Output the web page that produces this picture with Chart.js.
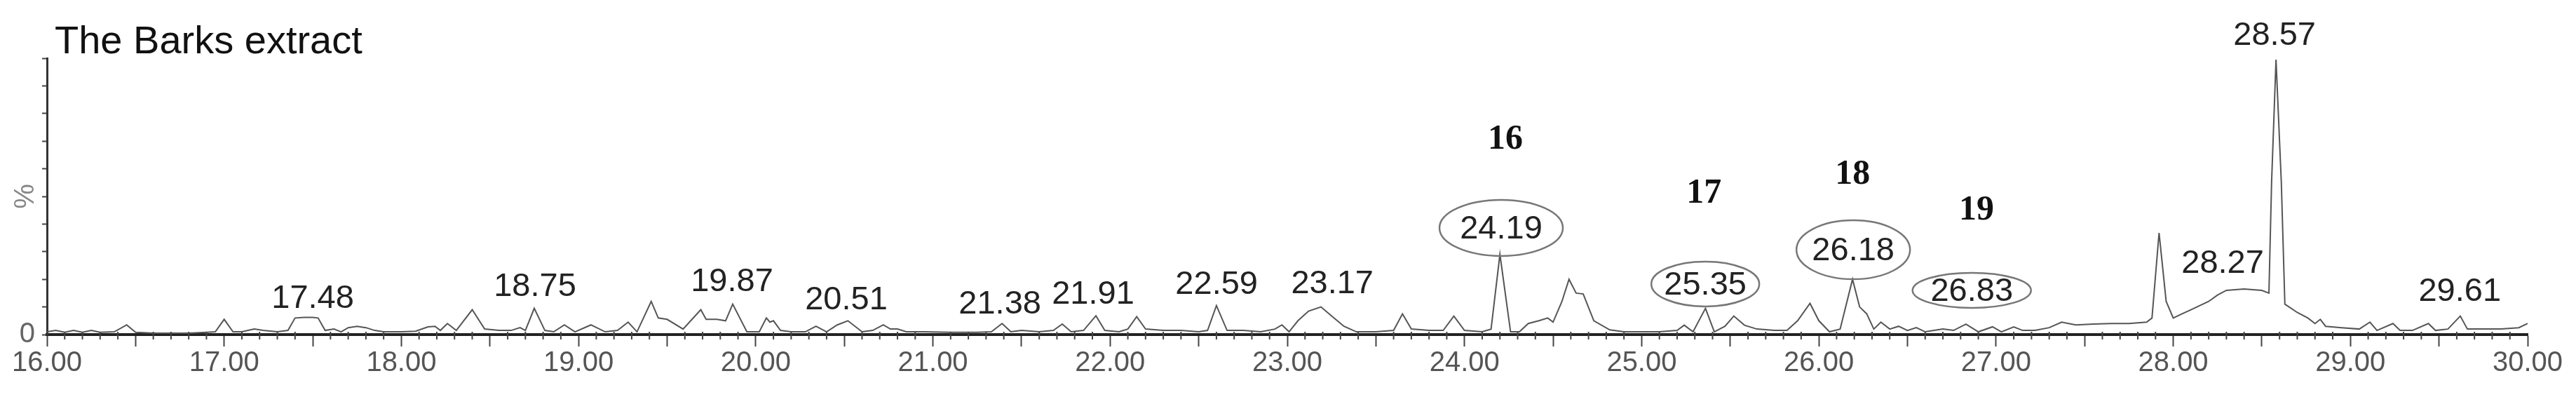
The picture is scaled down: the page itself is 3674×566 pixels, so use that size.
<!DOCTYPE html>
<html>
<head>
<meta charset="utf-8">
<script src="https://cdn.jsdelivr.net/npm/chart.js@4/dist/chart.umd.min.js"></script>
<style>html,body{margin:0;padding:0;background:#fff;overflow:hidden}</style>
</head>
<body>
<canvas id="c" width="3674" height="566" style="display:block;width:3674px;height:566px"></canvas>
<script>
// ---------- data ----------
const chartTitle = 'The Barks extract';
const yAxisTitle = '%';

const retentionTimes = [
16.00,16.05,16.10,16.15,16.20,16.25,16.30,16.38,16.45,16.50,16.60,16.70,16.80,16.90,16.95,
17.00,17.05,17.10,17.17,17.22,17.30,17.36,17.40,17.45,17.50,17.53,17.57,17.62,17.66,17.70,17.75,17.80,17.85,17.90,
18.00,18.08,18.15,18.19,18.22,18.26,18.31,18.40,18.47,18.55,18.62,18.67,18.70,18.75,18.81,18.86,18.92,18.98,
19.07,19.15,19.22,19.28,19.33,19.41,19.45,19.50,19.59,19.69,19.72,19.78,19.83,19.87,19.95,
20.02,20.06,20.08,20.10,20.14,20.20,20.28,20.34,20.40,20.46,20.52,20.60,20.66,20.72,20.76,20.80,20.85,20.95,
21.10,21.25,21.33,21.39,21.44,21.50,21.60,21.68,21.73,21.78,21.85,21.92,21.97,
22.05,22.10,22.15,22.20,22.30,22.40,22.50,22.55,22.60,22.66,22.75,22.85,22.93,22.97,
23.01,23.06,23.12,23.19,23.25,23.32,23.39,23.50,23.60,23.65,23.70,23.80,23.88,23.94,
24.00,24.10,24.15,24.20,24.26,24.31,24.36,24.42,24.47,24.50,24.55,24.59,24.63,24.67,24.73,24.82,24.90,
25.00,25.10,25.20,25.24,25.29,25.36,25.41,25.47,25.52,25.58,25.65,25.75,25.82,25.88,25.95,
26.00,26.06,26.12,26.19,26.23,26.27,26.31,26.35,26.40,26.45,26.50,26.55,26.60,26.70,26.76,26.83,26.90,26.98,
27.03,27.10,27.15,27.22,27.30,27.37,27.45,27.55,27.65,27.75,27.85,27.88,27.92,27.96,
28.00,28.05,28.10,28.15,28.20,28.25,28.30,28.40,28.50,28.54,28.555,28.58,28.61,28.63,28.70,28.76,28.80,28.83,28.86,28.95,
29.05,29.11,29.15,29.24,29.28,29.35,29.44,29.48,29.55,29.62,29.66,29.75,29.85,29.95,30.00
];
const intensities = [
1.0,1.5,0.8,1.5,0.8,1.5,0.8,1.0,3.5,0.8,0.5,0.5,0.5,0.8,1.0,
5.5,1.0,1.0,2.0,1.5,1.0,1.5,6.0,6.2,6.2,6.0,1.5,2.0,1.0,2.5,3.0,2.5,1.5,1.0,
1.0,1.2,2.8,3.0,1.5,4.0,1.5,9.0,2.0,1.5,1.5,2.5,1.5,9.5,1.5,1.0,3.5,1.0,
3.5,1.0,1.5,4.5,1.0,12.0,6.0,5.5,2.0,9.0,5.5,5.5,5.0,11.0,1.0,
1.0,6.0,4.5,5.0,1.5,1.0,1.0,3.0,1.0,3.5,5.0,1.0,1.5,3.5,2.0,2.0,1.0,1.0,
0.8,0.8,1.0,4.0,1.0,1.5,1.0,1.5,3.8,1.0,1.5,6.8,1.5,
1.0,2.0,6.5,2.0,1.5,1.5,1.0,1.5,10.5,1.5,1.5,1.0,2.0,3.5,
1.0,5.0,8.5,10.0,6.7,3.0,1.0,1.0,1.5,7.5,2.0,1.5,1.5,6.7,
1.5,1.0,2.0,29.0,1.0,1.0,4.0,5.0,6.0,4.5,12.0,20.0,15.0,14.7,5.0,1.7,1.0,
1.0,1.0,1.5,3.4,1.0,9.5,1.0,3.0,6.7,3.4,2.0,1.5,1.5,5.0,11.3,
5.0,1.0,2.0,20.0,10.0,7.5,2.0,4.5,2.0,3.0,1.5,2.5,1.0,2.0,1.5,3.8,1.0,2.8,
1.0,2.8,1.5,1.5,2.5,4.5,3.5,3.8,4.0,4.0,4.5,6.0,36.8,12.0,
6.0,7.5,9.0,10.5,12.0,14.3,16.0,16.5,16.0,15.0,55.0,99.5,55.0,11.0,8.0,6.0,4.0,5.5,3.0,2.5,
2.0,4.5,1.5,4.0,1.5,1.5,4.0,1.5,2.0,6.7,2.0,2.0,2.0,2.5,4.0
];

// peak retention-time labels and where they sit (in axis units)
const peakLabels     = ['17.48','18.75','19.87','20.51','21.38','21.91','22.59','23.17','24.19','25.35','26.18','26.83','28.27','28.57','29.61'];
const peakLabelRT    = [17.50, 18.754, 19.866, 20.511, 21.378, 21.904, 22.601, 23.254, 24.207, 25.359, 26.194, 26.863, 28.279, 28.572, 29.617];
const peakLabelLevel = [13.5, 17.8, 19.5, 12.9, 11.4, 15.0, 18.5, 18.8, 38.6, 18.3, 30.7, 16.0, 26.1, 108.6, 16.0];
const circledPeaks   = ['24.19','25.35','26.18','26.83'];

// compound numbers
const compoundNumbers = ['16','17','18','19'];
const compoundRT      = [24.231, 25.351, 26.19, 26.89];
const compoundLevel   = [70.6, 51.0, 57.9, 44.9];

// ---------- styles ----------
const ellipseSize = {'24.19':[176,80],'25.35':[154,64],'26.18':[162,84],'26.83':[169,50]};
const SANS = '"Liberation Sans", Arial, sans-serif';
const SERIF = '"Liberation Serif", "Times New Roman", serif';

const bgPlugin = {
  id: 'bg',
  beforeDraw(c) { const g = c.ctx; g.save(); g.fillStyle = '#fff'; g.fillRect(0, 0, c.width, c.height); g.restore(); }
};

const annotPlugin = {
  id: 'annot',
  afterDraw(c) {
    const g = c.ctx, xs = c.scales.x, ys = c.scales.y, b = c.chartArea.bottom;
    g.save();
    // minor ticks every 0.1
    g.strokeStyle = '#444'; g.lineWidth = 2;
    for (let i = Math.round(xs.min * 10); i <= Math.round(xs.max * 10); i++) {
      if (i % 5 === 0) continue;
      const px = xs.getPixelForValue(i / 10);
      g.beginPath(); g.moveTo(px, b - 4); g.lineTo(px, b + 7); g.stroke();
    }
    // chart title
    g.fillStyle = '#111'; g.font = '56px ' + SANS; g.textAlign = 'left'; g.textBaseline = 'alphabetic';
    g.fillText(chartTitle, 78, 76);
    // peak labels
    g.font = '47px ' + SANS; g.textAlign = 'center'; g.textBaseline = 'middle';
    peakLabels.forEach((t, i) => {
      const px = xs.getPixelForValue(peakLabelRT[i]);
      const py = ys.getPixelForValue(peakLabelLevel[i]);
      g.fillStyle = '#222';
      g.fillText(t, px, py + 2);
      if (circledPeaks.includes(t)) {
        const [w, h] = ellipseSize[t];
        g.strokeStyle = '#777'; g.lineWidth = 2.5;
        g.beginPath(); g.ellipse(px, py, w / 2, h / 2, 0, 0, Math.PI * 2); g.stroke();
      }
    });
    // compound numbers
    g.font = 'bold 50px ' + SERIF; g.fillStyle = '#111';
    compoundNumbers.forEach((t, i) => {
      g.fillText(t, xs.getPixelForValue(compoundRT[i]), ys.getPixelForValue(compoundLevel[i]));
    });
    g.restore();
  }
};

new Chart(document.getElementById('c'), {
  type: 'line',
  data: {
    datasets: [{
      data: retentionTimes.map((t, i) => ({ x: t, y: intensities[i] })),
      borderColor: '#555',
      borderWidth: 2,
      pointRadius: 0,
      tension: 0,
      fill: false
    }]
  },
  options: {
    responsive: false,
    animation: false,
    devicePixelRatio: 1,
    layout: { padding: { top: 83, right: 69, bottom: 0, left: 0 } },
    plugins: { legend: { display: false }, tooltip: { enabled: false } },
    scales: {
      x: {
        type: 'linear', min: 16, max: 30,
        ticks: {
          stepSize: 0.5, autoSkip: false, maxRotation: 0, minRotation: 0, padding: 0,
          color: '#555', font: { size: 40, family: SANS },
          callback: v => (Math.abs(v - Math.round(v)) < 1e-9 ? Number(v).toFixed(2) : '')
        },
        grid: { drawOnChartArea: false, tickLength: 17, tickWidth: 2, tickColor: '#444' },
        border: { color: '#222', width: 4 },
        afterFit(s) { s.height = 89; }
      },
      y: {
        min: 0, max: 100,
        ticks: {
          stepSize: 10, padding: 10, autoSkip: false, color: '#666', font: { size: 40, family: SANS },
          callback: v => (Math.abs(v) < 1e-9 ? '0' : '')
        },
        grid: { drawOnChartArea: false, tickLength: 7, tickWidth: 2, tickColor: '#444' },
        border: { color: '#333', width: 3 },
        title: { display: true, text: yAxisTitle, color: '#888', font: { size: 40, family: SANS }, padding: { top: 13, bottom: 0 } },
        afterFit(s) { s.width = 67; }
      }
    }
  },
  plugins: [bgPlugin, annotPlugin]
});
</script>
</body>
</html>
